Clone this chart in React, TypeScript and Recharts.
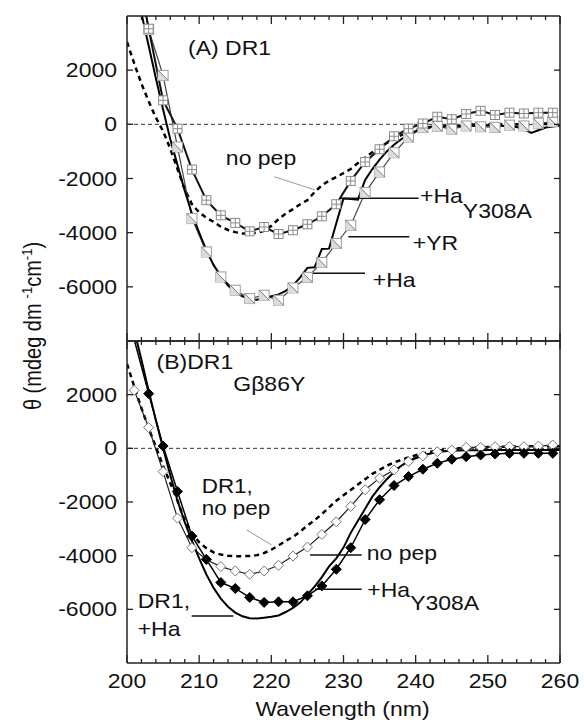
import React from 'react';
import { LineChart, Line, XAxis, YAxis, ReferenceLine, ReferenceDot } from 'recharts';

// ---------- data ----------
const WL_1NM = [
  200, 201, 202, 203, 204, 205, 206, 207, 208, 209,
  210, 211, 212, 213, 214, 215, 216, 217, 218, 219,
  220, 221, 222, 223, 224, 225, 226, 227, 228, 229,
  230, 231, 232, 233, 234, 235, 236, 237, 238, 239,
  240, 241, 242, 243, 244, 245, 246, 247, 248, 249,
  250, 251, 252, 253, 254, 255, 256, 257, 258, 259, 260,
];
const WL_ODD = [
  201, 203, 205, 207, 209, 211, 213, 215, 217, 219,
  221, 223, 225, 227, 229, 231, 233, 235, 237, 239,
  241, 243, 245, 247, 249, 251, 253, 255, 257, 259,
];
const X_TICKS = [200, 202, 204, 206, 208, 210, 212, 214, 216, 218, 220, 222, 224, 226, 228, 230, 232, 234, 236, 238, 240, 242, 244, 246, 248, 250, 252, 254, 256, 258, 260];
const X_LABELS = [200, 210, 220, 230, 240, 250, 260];
const Y_TICKS = [-8000, -6000, -4000, -2000, 0, 2000, 4000];
const Y_LABELS = [-6000, -4000, -2000, 0, 2000];

// Panel A (DR1)
const A_NO_PEP = [
  3040, 2250, 1500, 850, 250, -250, -900, -1650, -2400, -2950,
  -3250, -3450, -3600, -3780, -3900, -3980, -4030, -4030, -4000, -3930,
  -3750, -3500, -3300, -3130, -2950, -2800, -2500, -2250, -2080, -1950,
  -1800, -1650, -1430, -1230, -1030, -850, -690, -540, -400, -290,
  -210, -160, -120, -90, -60, -40, -30, -20, -10, 0,
  0, -10, 0, 10, 0, 10, 0, 10, 10, 20, 20,
];
const A_HA = [
  7000, 5500, 4100, 2900, 1700, 550, -550, -1500, -2450, -3300,
  -4000, -4650, -5200, -5600, -5950, -6200, -6350, -6450, -6480, -6420,
  -6350, -6280, -6150, -5950, -5650, -5300, -5280, -4600, -4590, -3650,
  -2740, -2760, -2780, -2050, -1650, -1300, -1000, -750, -550, -380,
  -250, -150, -90, -60, -80, -40, -60, -30, -50, -30,
  -40, -20, -50, -80, -100, -180, -320, -220, -120, -80, -50,
];
const A_HA_Y308A = [
  6500, 3530, 885, -160, -1670, -2800, -3360, -3640, -3950, -3790,
  -4050, -3910, -3690, -3395, -2950, -2090, -1390, -920, -440, -160,
  30, 280, 190, 380, 500, 345, 430, 400, 430, 430,
];
const A_YR = [
  6000, 3500, 1808, -838, -3480, -4712, -5634, -6125, -6433, -6310,
  -6494, -6040, -5650, -5100, -4400, -3727, -2520, -1760, -1050, -468,
  -120, -80, -180, -60, -90, -110, -30, -60, 40, 100,
];

// Panel B (DR1 Gβ86Y)
const B_DR1_NO_PEP = [
  3150, 2300, 1500, 750, 50, -650, -1300, -1950, -2700, -3150,
  -3500, -3720, -3880, -3960, -4000, -4020, -4020, -4010, -3980, -3900,
  -3780, -3620, -3450, -3300, -3100, -2880, -2680, -2450, -2200, -1950,
  -1750, -1550, -1350, -1150, -950, -800, -650, -530, -430, -340,
  -260, -190, -130, -90, -50, -20, 0, 10, 30, 40,
  50, 55, 60, 65, 70, 70, 75, 75, 80, 80, 80,
];
const B_DR1_HA = [
  7000, 4400, 3300, 2150, 1050, 0, -1000, -1950, -2750, -3450,
  -4100, -4700, -5200, -5600, -5900, -6120, -6260, -6330, -6340, -6310,
  -6280, -6230, -6100, -5950, -5750, -5450, -5150, -4800, -4400, -4100,
  -3700, -3150, -2700, -2250, -1800, -1450, -1150, -880, -650, -480,
  -350, -260, -190, -140, -110, -90, -80, -75, -70, -70,
  -65, -65, -65, -60, -60, -60, -60, -60, -60, -60, -60,
];
const B_NO_PEP = [
  2160, 778, -867, -2600, -3704, -4150, -4407, -4570, -4693, -4570,
  -4359, -4015, -3680, -3211, -2737, -2163, -1544, -1111, -804, -496,
  -285, -126, -63, 37, 37, 63, 63, 63, 85, 122,
];
const B_HA_Y308A = [
  4050, 2037, 85, -1607, -3274, -4137, -5000, -5222, -5556, -5741,
  -5719, -5719, -5496, -5126, -4507, -3704, -2656, -1915, -1385, -1052,
  -778, -556, -407, -311, -248, -211, -185, -185, -185, -185,
];

const pts = (xs: number[], ys: number[]) => xs.map((x, i) => ({ wl: x, v: ys[i] }));

// ---------- layout / style ----------
const W = 584;
const H = 728;
const FONT = '"Liberation Sans", Arial, Helvetica, sans-serif';
const SX = 1.15;
const INK = '#111';

function Txt(props: any) {
  const { x, y, anchor = 'start', size = 20, children } = props;
  return (
    <text
      transform={`translate(${x},${y}) scale(${SX},1)`}
      textAnchor={anchor}
      fontFamily={FONT}
      fontSize={size}
      fill={INK}
    >
      {children}
    </text>
  );
}

const xTick = (side: 'bottom' | 'top', labels: boolean) => (props: any) => {
  const { x, y, payload, index } = props;
  const v = payload.value;
  const major = X_LABELS.includes(v);
  const len = major ? 8 : 4;
  const dir = side === 'bottom' ? -1 : 1;
  return (
    <g key={`xt-${side}-${index}`}>
      <line x1={x} x2={x} y1={y} y2={y + dir * len} stroke="#222" strokeWidth={1.3} />
      {labels && major ? (
        <Txt x={x} y={y + 25} anchor="middle">{v}</Txt>
      ) : null}
    </g>
  );
};

const yTick = (side: 'left' | 'right') => (props: any) => {
  const { x, y, payload, index } = props;
  const v = payload.value;
  if (!Y_LABELS.includes(v)) return <g key={`yt-${side}-${index}`} />;
  const dir = side === 'left' ? 1 : -1;
  return (
    <g key={`yt-${side}-${index}`}>
      <line x1={x} x2={x + dir * 6} y1={y} y2={y} stroke="#222" strokeWidth={1.3} />
      {side === 'left' ? (
        <Txt x={x - 10} y={y + 7} anchor="end">{v}</Txt>
      ) : null}
    </g>
  );
};

// markers
const hide = (p: any) => p.cx == null || p.cy == null || p.payload.v > 3900;

const squarePlus = (p: any) => {
  if (hide(p)) return <g key={`sp${p.index}`} />;
  const s = 4.5;
  return (
    <g key={`sp${p.index}`}>
      <rect x={p.cx - s} y={p.cy - s} width={2 * s} height={2 * s} fill="#fff" stroke="#8a8a8a" strokeWidth={1} />
      <line x1={p.cx} x2={p.cx} y1={p.cy - s} y2={p.cy + s} stroke="#8a8a8a" strokeWidth={1} />
      <line x1={p.cx - s} x2={p.cx + s} y1={p.cy} y2={p.cy} stroke="#8a8a8a" strokeWidth={1} />
    </g>
  );
};

const squareDiag = (p: any) => {
  if (hide(p)) return <g key={`sd${p.index}`} />;
  const s = 5;
  return (
    <g key={`sd${p.index}`}>
      <rect x={p.cx - s} y={p.cy - s} width={2 * s} height={2 * s} fill="#fff" stroke="#9a9a9a" strokeWidth={1} />
      <polygon points={`${p.cx - s},${p.cy - s} ${p.cx + s},${p.cy + s} ${p.cx - s},${p.cy + s}`} fill="#dcdcdc" stroke="none" />
      <line x1={p.cx - s} y1={p.cy - s} x2={p.cx + s} y2={p.cy + s} stroke="#7a7a7a" strokeWidth={1} />
    </g>
  );
};

const diamondOpen = (p: any) => {
  if (hide(p)) return <g key={`do${p.index}`} />;
  const s = 5;
  return (
    <polygon
      key={`do${p.index}`}
      points={`${p.cx},${p.cy - s} ${p.cx + s},${p.cy} ${p.cx},${p.cy + s} ${p.cx - s},${p.cy}`}
      fill="#fff"
      stroke="#777"
      strokeWidth={1}
    />
  );
};

const diamondFilled = (p: any) => {
  if (hide(p)) return <g key={`df${p.index}`} />;
  const s = 5;
  return (
    <polygon
      key={`df${p.index}`}
      points={`${p.cx},${p.cy - s} ${p.cx + s},${p.cy} ${p.cx},${p.cy + s} ${p.cx - s},${p.cy}`}
      fill="#000"
      stroke="#000"
      strokeWidth={1}
    />
  );
};

const note = (key: string, x: number, y: number, content: any, size = 20) => (
  <ReferenceDot
    key={key}
    x={x}
    y={y}
    r={0}
    ifOverflow="visible"
    shape={(p: any) => <Txt x={p.cx} y={p.cy} size={size}>{content}</Txt>}
  />
);

const leader = (key: string, x1: number, y1: number, x2: number, y2: number, color = '#111', w = 1.5) => (
  <ReferenceLine
    key={key}
    segment={[{ x: x1, y: y1 }, { x: x2, y: y2 }]}
    stroke={color}
    strokeWidth={w}
    ifOverflow="visible"
  />
);

function axes(showXLabels: boolean, withTitle: boolean, withYTitle: boolean) {
  return [
    <XAxis
      key="xb"
      dataKey="wl"
      type="number"
      domain={[200, 260]}
      ticks={X_TICKS}
      allowDataOverflow
      height={1}
      tickSize={0}
      tickMargin={0}
      tickLine={false}
      axisLine={{ stroke: '#222', strokeWidth: 1.5 }}
      tick={xTick('bottom', showXLabels)}
      interval={0}
      label={
        withTitle
          ? {
              content: (p: any) => (
                <Txt x={p.viewBox.x + p.viewBox.width / 2 - 1} y={p.viewBox.y + 53} anchor="middle">
                  Wavelength (nm)
                </Txt>
              ),
            }
          : undefined
      }
    />,
    <XAxis
      key="xt"
      xAxisId="top"
      orientation="top"
      dataKey="wl"
      type="number"
      domain={[200, 260]}
      ticks={X_TICKS}
      allowDataOverflow
      height={1}
      tickSize={0}
      tickMargin={0}
      tickLine={false}
      axisLine={{ stroke: '#222', strokeWidth: 1.5 }}
      tick={xTick('top', false)}
      interval={0}
    />,
    <YAxis
      key="yl"
      type="number"
      domain={[-8000, 4000]}
      ticks={Y_TICKS}
      allowDataOverflow
      width={1}
      tickSize={0}
      tickMargin={0}
      tickLine={false}
      axisLine={{ stroke: '#222', strokeWidth: 1.5 }}
      tick={yTick('left')}
      interval={0}
      label={
        withYTitle
          ? {
              content: () => (
                <text
                  transform="translate(41,326) rotate(-90) scale(1,1.15)"
                  textAnchor="middle"
                  fontFamily={FONT}
                  fontSize={20}
                  fill={INK}
                >
                  θ (mdeg dm
                  <tspan dx={5} dy={-8} fontSize={13}>-1</tspan>
                  <tspan dy={8}>cm</tspan>
                  <tspan dy={-8} fontSize={13}>-1</tspan>
                  <tspan dy={8}>)</tspan>
                </text>
              ),
            }
          : undefined
      }
    />,
    <YAxis
      key="yr"
      yAxisId="right"
      orientation="right"
      type="number"
      domain={[-8000, 4000]}
      ticks={Y_TICKS}
      allowDataOverflow
      width={1}
      tickSize={0}
      tickMargin={0}
      tickLine={false}
      axisLine={{ stroke: '#222', strokeWidth: 1.5 }}
      tick={yTick('right')}
      interval={0}
    />,
    <ReferenceLine key="zero" y={0} stroke="#333" strokeWidth={1} strokeDasharray="4 3" />,
  ];
}

export default function App() {
  return (
    <div style={{ position: 'absolute', left: 0, top: 0, width: W, height: H, background: '#fff' }}>
      {/* Panel A */}
      <div style={{ position: 'absolute', left: 0, top: 0 }}>
        <LineChart width={W} height={H} margin={{ top: 15, right: 23, bottom: 386, left: 126 }}>
          {axes(false, false, true)}
          <Line data={pts(WL_1NM, A_NO_PEP)} dataKey="v" stroke="#000" strokeWidth={2.5} strokeDasharray="5 4" dot={false} isAnimationActive={false} />
          <Line data={pts(WL_ODD, A_YR)} dataKey="v" stroke="#444" strokeWidth={1.2} dot={squareDiag} isAnimationActive={false} />
          <Line data={pts(WL_1NM, A_HA)} dataKey="v" stroke="#000" strokeWidth={2} dot={false} isAnimationActive={false} />
          <Line data={pts(WL_ODD, A_HA_Y308A)} dataKey="v" stroke="#111" strokeWidth={2} dot={squarePlus} isAnimationActive={false} />
          {note('a-title', 208.45, 2560, '(A) DR1')}
          {note('a-nopep', 213.7, -1501, 'no pep')}
          {leader('a-l0', 220.4, -1933, 226.05, -2424, '#999', 1)}
          {note('a-ha308', 240.6, -2904, (<>+Ha<tspan dy={15}>Y308A</tspan></>))}
          {leader('a-l1', 229.5, -2731, 240.4, -2731)}
          {note('a-yr', 239.6, -4639, '+YR')}
          {leader('a-l2', 230.66, -4148, 239.12, -4148)}
          {note('a-ha', 234.05, -5994, '+Ha')}
          {leader('a-l3', 225.36, -5500, 232.98, -5500)}
        </LineChart>
      </div>
      {/* Panel B */}
      <div style={{ position: 'absolute', left: 0, top: 0 }}>
        <LineChart width={W} height={H} margin={{ top: 340, right: 23, bottom: 64, left: 126 }}>
          {axes(true, true, false)}
          <Line data={pts(WL_1NM, B_DR1_NO_PEP)} dataKey="v" stroke="#000" strokeWidth={2.5} strokeDasharray="5 4" dot={false} isAnimationActive={false} />
          <Line data={pts(WL_ODD, B_NO_PEP)} dataKey="v" stroke="#222" strokeWidth={1.2} dot={diamondOpen} isAnimationActive={false} />
          <Line data={pts(WL_1NM, B_DR1_HA)} dataKey="v" stroke="#000" strokeWidth={2} dot={false} isAnimationActive={false} />
          <Line data={pts(WL_ODD, B_HA_Y308A)} dataKey="v" stroke="#000" strokeWidth={1.5} dot={diamondFilled} isAnimationActive={false} />
          {note('b-title', 204.1, 2945, (<>(B)DR1<tspan dy={22}>Gβ86Y</tspan></>))}
          {note('b-dr1a', 210.35, -1676, 'DR1,', 19.5)}
          {note('b-dr1b', 210.35, -2470, 'no pep', 19.5)}
          {leader('b-l0', 216.59, -3044, 220.05, -3603, '#999', 1)}
          {note('b-dr1c', 201.48, -5962, 'DR1,')}
          {note('b-dr1d', 201.48, -6994, '+Ha')}
          {leader('b-l1', 208.96, -6249, 214.73, -6249)}
          {note('b-nopep', 233.21, -4162, 'no pep')}
          {leader('b-l2', 225.36, -3976, 232.52, -3976)}
          {note('b-ha308', 233.3, -5530, (<>+Ha<tspan dy={13}>Y308A</tspan></>))}
          {leader('b-l3', 226.05, -5254, 232.52, -5254)}
        </LineChart>
      </div>
    </div>
  );
}
